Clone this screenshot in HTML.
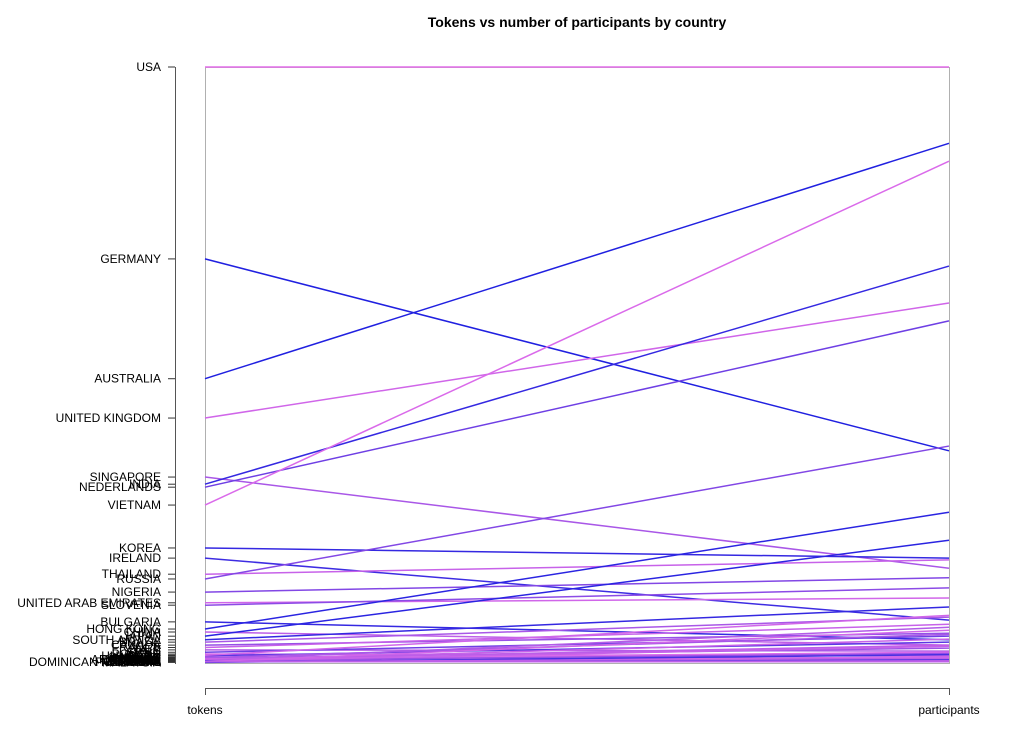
<!DOCTYPE html>
<html><head><meta charset="utf-8">
<style>
html,body{margin:0;padding:0;background:#fff;}
svg{display:block;font-family:"Liberation Sans",sans-serif;}
</style></head>
<body>
<svg id="chart" width="1024" height="731" viewBox="0 0 1024 731">
<text x="577" y="27" text-anchor="middle" font-size="14" font-weight="bold">Tokens vs number of participants by country</text>
<rect x="205.5" y="67.5" width="744" height="596" fill="none" stroke="#b0b0b0" stroke-width="1"/>
<line x1="175.5" y1="67" x2="175.5" y2="664" stroke="#555"/>
<line x1="205" y1="688.5" x2="949" y2="688.5" stroke="#555"/>
<line x1="205.5" y1="688" x2="205.5" y2="695" stroke="#555"/>
<line x1="949.5" y1="688" x2="949.5" y2="695" stroke="#555"/>
<text x="205" y="714" text-anchor="middle" font-size="12">tokens</text>
<text x="949" y="714" text-anchor="middle" font-size="12">participants</text>
<g id="lines"></g>
<g id="labels"></g>
</svg>
<script>
const countries = ["USA","GERMANY","AUSTRALIA","UNITED KINGDOM","SINGAPORE","INDIA","NEDERLANDS","VIETNAM","KOREA","IRELAND","THAILAND","RUSSIA","NIGERIA","UNITED ARAB EMIRATES","SLOVENIA","BULGARIA","HONG KONG","CHINA","JAPAN","SOUTH AFRICA","BRAZIL","CANADA","FRANCE","ITALY","SPAIN","POLAND","HUNGARY","SWEDEN","MEXICO","ARGENTINA","TURKEY","ISRAEL","KENYA","PERU","CHILE","GREECE","NORWAY","DENMARK","FINLAND","AUSTRIA","BELGIUM","PORTUGAL","ROMANIA","EGYPT","MALAYSIA","DOMINICAN REPUBLIC"];
const tokens = [100,67.8,47.7,41.1,31.2,30.0,29.5,26.5,19.3,17.6,14.9,14.1,11.9,10.1,9.7,6.9,5.7,5.2,4.5,3.9,3.5,3.0,2.6,2.2,1.8,1.5,1.2,1.0,0.8,0.6,0.5,0.4,0.3,1.3,0.9,0.7,0.6,0.5,0.4,0.3,0.3,0.2,0.2,0.2,0.1,0.2];
const participants = [100,35.6,87.2,60.4,15.9,66.6,57.4,84.2,17.6,7.2,17.3,36.4,14.3,10.9,12.6,3.9,25.3,3.0,20.6,9.4,7.7,5.0,6.5,2.0,4.5,1.2,3.5,0.5,2.5,1.5,6.0,4.0,1.0,8.0,4.8,1.8,3.0,0.3,1.6,2.8,0.6,1.0,5.5,0.2,1.4,0.8];
const shades = [1,0,0,0.9,0.7,0.1,0.4,0.95,0.1,0.15,0.85,0.5,0.5,0.9,0.55,0.1,0.05,0.8,0.05,0.1,0.7,0.6,0.85,0.75,0.4,0.9,0.3,0.8,0.65,0.9,0.75,0.85,0.3,0.9,0.7,0.95,0.8,0.9,0.6,0.85,0.3,0.95,0.9,0.8,0.2,0.8];

const yTop=67, yBot=663, xL=205, xR=949;
function yScale(v){return yBot-(v/100)*(yBot-yTop);}
function color(s){const r=Math.round(32+s*(228-32)),g=Math.round(32+s*(110-32)),b=Math.round(224+s*10);return `rgb(${r},${g},${b})`;}
const NS="http://www.w3.org/2000/svg";
const lg=document.getElementById('lines'), lb=document.getElementById('labels');
countries.forEach((c,i)=>{
  const ln=document.createElementNS(NS,'line');
  ln.setAttribute('x1',xL);ln.setAttribute('x2',xR);
  ln.setAttribute('y1',yScale(tokens[i]));ln.setAttribute('y2',yScale(participants[i]));
  ln.setAttribute('stroke',color(shades[i]));ln.setAttribute('stroke-width','1.5');
  
  
  lg.appendChild(ln);
  const y=yScale(tokens[i]);
  const tk=document.createElementNS(NS,'line');
  tk.setAttribute('x1',168);tk.setAttribute('x2',175);tk.setAttribute('y1',y);tk.setAttribute('y2',y);
  tk.setAttribute('stroke','#333');
  
  
  lb.appendChild(tk);
  const t=document.createElementNS(NS,'text');
  t.setAttribute('x',161);t.setAttribute('y',y+4);t.setAttribute('text-anchor','end');t.setAttribute('font-size','12');
  t.textContent=c;
  
  
  lb.appendChild(t);
});
</script>
</body></html>
